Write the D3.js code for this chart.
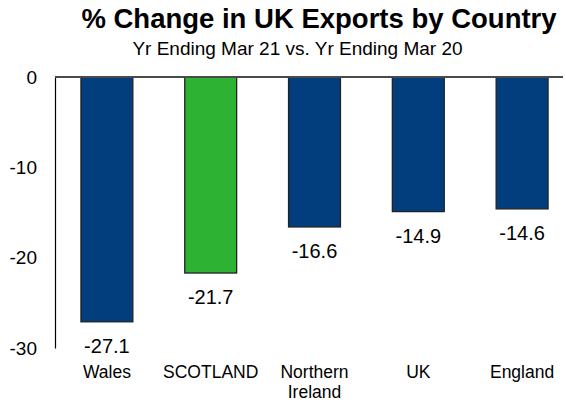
<!DOCTYPE html>
<html>
<head>
<meta charset="utf-8">
<script src="https://cdn.jsdelivr.net/npm/d3@7"></script>
<style>
  html, body { margin: 0; padding: 0; background: #fff; }
  svg { display: block; font-family: "Liberation Sans", Arial, sans-serif; }
</style>
</head>
<body>
<svg id="chart" width="566" height="402"></svg>
<script>
// Export change by nation, year ending Mar 21 vs year ending Mar 20
const categories = ["Wales", "SCOTLAND", "Northern\nIreland", "UK", "England"];
const values = [-27.1, -21.7, -16.6, -14.9, -14.6];
const barColors = ["#023e7d", "#2db233", "#023e7d", "#023e7d", "#023e7d"];
const yTicks = [0, -10, -20, -30];

const svg = d3.select("#chart");
const margin = { left: 55, top: 77, bottom: 54 };
const W = 566, H = 402;

const x = d3.scaleBand()
  .domain(categories)
  .range([margin.left, 574])
  .paddingInner(0.5)
  .paddingOuter(0.25);

const y = d3.scaleLinear()
  .domain([0, -30])
  .range([margin.top, H - margin.bottom]);

// Hyphen-minus style numbers
const fmtTick = d => String(d);
const fmtVal = d => d3.format(".1f")(d).replace("\u2212", "-");

// Title block
svg.append("text")
  .attr("x", 319).attr("y", 28)
  .attr("text-anchor", "middle")
  .attr("font-size", 27.5).attr("font-weight", "bold")
  .attr("fill", "#000")
  .text("% Change in UK Exports by Country");

svg.append("text")
  .attr("x", 297.5).attr("y", 55)
  .attr("text-anchor", "middle")
  .attr("font-size", 19)
  .attr("fill", "#000")
  .text("Yr Ending Mar 21 vs. Yr Ending Mar 20");

// Y axis: labels only, plain vertical rule
const yAxis = d3.axisLeft(y).tickValues(yTicks).tickSize(0).tickPadding(18)
  .tickFormat(fmtTick);
const gy = svg.append("g")
  .attr("transform", `translate(${margin.left},0)`)
  .call(yAxis);
gy.select(".domain").attr("stroke", "#000").attr("stroke-width", 1.2);
gy.selectAll("text")
  .attr("font-size", 19).attr("fill", "#000")
  .attr("font-family", "Liberation Sans, Arial, sans-serif");

// Bars
svg.append("g").selectAll("rect")
  .data(values)
  .join("rect")
  .attr("x", (d, i) => x(categories[i]))
  .attr("y", y(0))
  .attr("width", x.bandwidth())
  .attr("height", d => y(d) - y(0))
  .attr("fill", (d, i) => barColors[i])
  .attr("stroke", "#222")
  .attr("stroke-width", 1.3);

// Zero line
svg.append("line")
  .attr("x1", margin.left).attr("x2", 563)
  .attr("y1", y(0)).attr("y2", y(0))
  .attr("stroke", "#4a4a4a").attr("stroke-width", 2);

// Value labels under each bar
svg.append("g").selectAll("text")
  .data(values)
  .join("text")
  .attr("x", (d, i) => x(categories[i]) + x.bandwidth() / 2)
  .attr("y", d => y(d) + 31)
  .attr("text-anchor", "middle")
  .attr("font-size", 20)
  .attr("fill", "#000")
  .text(fmtVal);

// Category labels
const catG = svg.append("g");
categories.forEach(c => {
  const t = catG.append("text")
    .attr("x", x(c) + x.bandwidth() / 2)
    .attr("y", 378)
    .attr("text-anchor", "middle")
    .attr("font-size", 17.5)
    .attr("fill", "#000");
  c.split("\n").forEach((line, k) => {
    t.append("tspan")
      .attr("x", x(c) + x.bandwidth() / 2)
      .attr("dy", k === 0 ? 0 : 20)
      .text(line);
  });
});
</script>
</body>
</html>
